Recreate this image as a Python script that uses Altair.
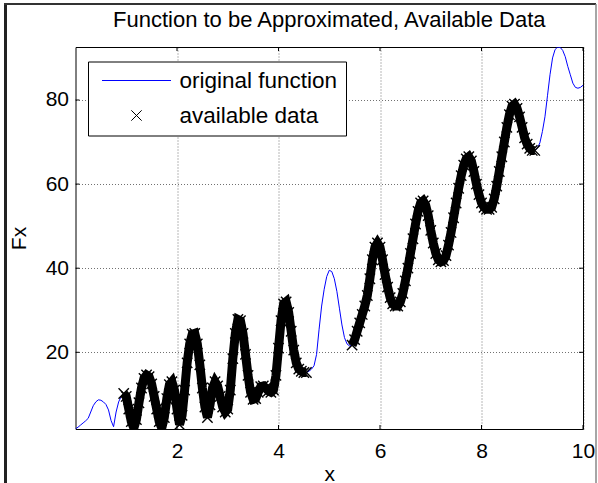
import altair as alt
import pandas as pd

# ---- values ----
x_values = [round(i * 0.05, 2) for i in range(201)]
fx_values = [
    1.8, 2.2, 2.7, 3.2, 3.7, 4.3, 5.8, 7.3, 8.2, 8.7,          # 0.00-0.45
    8.6, 8.2, 7.6, 6.3, 3.8, 2.3, 5.8, 8.2, 9.5, 10.2,         # 0.50-0.95
    9.5, 6.5, 3.5, 2.0, 4.0, 8.0, 11.5, 13.8, 14.6, 14.2,      # 1.00-1.45
    12.5, 9.5, 6.5, 3.5, 2.0, 4.5, 9.0, 12.3, 13.0, 11.0,      # 1.50-1.95
    6.5, 2.8, 5.0, 11.0, 17.5, 22.0, 24.3, 24.5, 22.0, 17.0,   # 2.00-2.45
    11.5, 7.0, 4.5, 7.5, 11.5, 13.0, 12.0, 9.5, 7.0, 5.8,      # 2.50-2.95
    6.5, 11.0, 18.5, 24.5, 27.8, 27.5, 24.5, 19.5, 14.5, 10.5, # 3.00-3.45
    8.8, 9.0, 10.5, 11.8, 12.0, 11.5, 10.8, 10.5, 11.0, 14.5,  # 3.50-3.95
    21.0, 27.5, 31.5, 32.0, 29.5, 25.0, 20.5, 17.5, 16.0, 15.5,# 4.00-4.45
    15.2, 15.2, 15.5, 16.0, 16.8, 19.5, 25.5, 31.0, 35.0, 38.0,# 4.50-4.95
    39.5, 39.2, 37.5, 34.5, 30.5, 26.5, 23.5, 22.0, 21.5, 21.7,# 5.00-5.45
    23.0, 25.0, 27.0, 29.0, 31.0, 33.5, 37.5, 42.0, 45.0, 46.0,# 5.50-5.95
    45.0, 42.0, 38.5, 35.5, 33.0, 31.5, 31.0, 31.0, 32.0, 34.0,# 6.00-6.45
    37.0, 40.0, 43.5, 47.0, 50.5, 53.5, 55.5, 56.0, 55.0, 52.5,# 6.50-6.95
    49.0, 46.0, 43.5, 42.0, 41.5, 41.8, 43.0, 45.5, 48.5, 52.0,# 7.00-7.45
    55.5, 59.0, 62.0, 64.5, 66.0, 66.5, 65.5, 63.0, 60.0, 57.5,# 7.50-7.95
    55.5, 54.5, 54.0, 54.0, 54.5, 56.5, 59.5, 63.0, 66.5, 70.0,# 8.00-8.45
    73.5, 76.5, 78.5, 79.0, 78.0, 76.0, 73.5, 71.0, 69.5, 68.5,# 8.50-8.95
    68.0, 68.0, 68.5, 69.8, 72.5, 76.0, 81.0, 86.0, 90.0, 92.0,# 9.00-9.45
    92.6, 92.5, 91.8, 90.3, 88.0, 86.0, 84.0, 83.0, 82.8, 83.0,# 9.50-9.95
    83.5,                                                      # 10.00
]
available_ranges = [(0.95, 4.55), (5.45, 9.05)]
legend_labels = ["original function", "available data"]
legend_colors = ["#0000ff", "#000000"]
x_ticks = [2, 4, 6, 8, 10]
y_ticks = [20, 40, 60, 80]
x_domain = [0, 10]
y_domain = [1.76, 92.6]
title_text = "Function to be Approximated, Available Data"

assert len(x_values) == len(fx_values)

rows = []
for xv, fv in zip(x_values, fx_values):
    seg = -1
    for k, (a, b) in enumerate(available_ranges):
        if a - 1e-9 <= xv <= b + 1e-9:
            seg = k
    rows.append({"x": xv, "fx": fv, "seg": seg})
func_df = pd.DataFrame(rows)
data_df = func_df[func_df["seg"] >= 0].copy()
data_df["series"] = legend_labels[1]
xtick_df = pd.DataFrame({"x": x_ticks})
ytick_df = pd.DataFrame({"fx": y_ticks})

FONT = "Liberation Sans"
W, H = 507.5, 382
PAD_L, PAD_T = 75.5, 47
TICK = 4

xs = alt.Scale(domain=x_domain, nice=False, zero=False)
ys = alt.Scale(domain=y_domain, nice=False, zero=False)

x_enc = alt.X("x:Q", scale=xs, title="x",
              axis=alt.Axis(values=x_ticks, labelPadding=11, labelFlush=False,
                            titleX=W / 2, titleY=51, titleBaseline="alphabetic"))
y_enc = alt.Y("fx:Q", scale=ys, title="Fx",
              axis=alt.Axis(values=y_ticks, labelPadding=7, labelFlush=False,
                            titleX=-56, titleY=H / 2, titleAngle=270,
                            titleBaseline="middle", titleAlign="center"))

line_path = "M-1,0L1,0"
x_path = "M-0.15,-0.15L0.15,0.15M-0.15,0.15L0.15,-0.15"
SYM = 4761

legend_kw = dict(title=None, orient="none", legendX=12.5, legendY=14.5,
                 direction="vertical", fillColor="white",
                 strokeColor="black", padding=8, cornerRadius=0,
                 labelFont=FONT, labelFontSize=22.5, labelColor="black",
                 symbolSize=SYM, symbolStrokeWidth=1, clipHeight=22,
                 rowPadding=12, labelOffset=8, symbolOffset=5.5,
                 symbolStrokeColor=alt.ExprRef(
                     expr="datum.value === 'original function' ? '#0000ff' : '#000000'"))

band = alt.Chart(data_df).mark_line(color="black", strokeWidth=9, clip=True).encode(
    x=x_enc, y=y_enc, detail="seg:N")

markers = alt.Chart(data_df).mark_point(filled=False, size=SYM, strokeWidth=1.4,
                                        opacity=1, clip=True).encode(
    x=x_enc, y=y_enc,
    stroke=alt.Stroke("series:N",
                      scale=alt.Scale(domain=legend_labels, range=legend_colors),
                      legend=alt.Legend(**legend_kw)),
    shape=alt.Shape("series:N",
                    scale=alt.Scale(domain=legend_labels, range=[line_path, x_path]),
                    legend=alt.Legend(**legend_kw)),
)

func_line = alt.Chart(func_df).mark_line(color="#0000ff", strokeWidth=1,
                                         clip=True).encode(x=x_enc, y=y_enc)

# inward MATLAB-style tick marks on all four sides
tick_style = dict(color="black", strokeWidth=1)
xt_bottom = alt.Chart(xtick_df).mark_rule(**tick_style).encode(
    x=x_enc, y=alt.value(H), y2=alt.value(H - TICK))
xt_top = alt.Chart(xtick_df).mark_rule(**tick_style).encode(
    x=x_enc, y=alt.value(0), y2=alt.value(TICK))
yt_left = alt.Chart(ytick_df).mark_rule(**tick_style).encode(
    y=y_enc, x=alt.value(0), x2=alt.value(TICK))
yt_right = alt.Chart(ytick_df).mark_rule(**tick_style).encode(
    y=y_enc, x=alt.value(W - TICK), x2=alt.value(W))

dummy = pd.DataFrame({"d": [0]})
left_border = alt.Chart(dummy).mark_rule(color="#222222", strokeWidth=3).encode(
    x=alt.value(5.5 - PAD_L), y=alt.value(3 - PAD_T), y2=alt.value(483 - PAD_T))
top_border = alt.Chart(dummy).mark_rule(color="#333333", strokeWidth=2).encode(
    x=alt.value(4 - PAD_L), x2=alt.value(596 - PAD_L), y=alt.value(4 - PAD_T))
right_border = alt.Chart(dummy).mark_rule(color="#888888", strokeWidth=1.5).encode(
    x=alt.value(596 - PAD_L), y=alt.value(4 - PAD_T), y2=alt.value(483 - PAD_T))

chart = alt.layer(func_line, band, markers, xt_bottom, xt_top, yt_left, yt_right,
                  left_border, top_border, right_border).properties(
    width=W, height=H,
    background="white",
    title=alt.TitleParams(title_text, font=FONT, fontSize=22, fontWeight="normal",
                          color="black", anchor="middle", offset=-47.5,
                          baseline="alphabetic"),
    padding={"left": PAD_L, "top": PAD_T, "right": 598 - PAD_L - W, "bottom": 483 - PAD_T - H},
    autosize=alt.AutoSizeParams(type="none"),
).configure_view(stroke="black", strokeWidth=1).configure_axis(
    labelFont=FONT, labelFontSize=21, labelColor="black", titleFont=FONT,
    titleFontSize=21, titleFontWeight="normal", titleColor="black",
    grid=True, gridColor="#000000", gridOpacity=0.7, gridDash=[1, 2], gridWidth=0.8,
    ticks=False, domain=False,
)

chart.save("out.html", embed_options={"renderer": "svg", "actions": False})
